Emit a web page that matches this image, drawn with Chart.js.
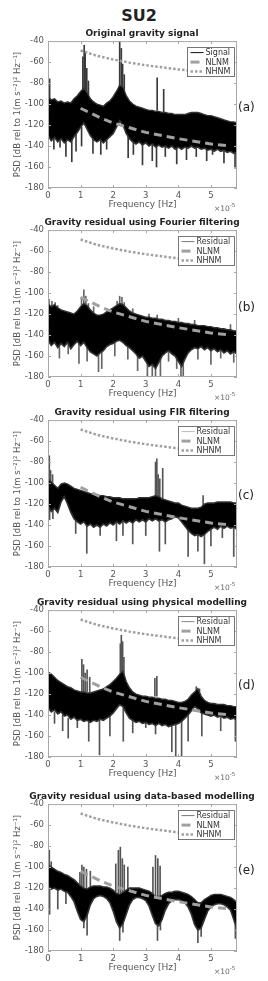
<!DOCTYPE html>
<html>
<head>
<meta charset="utf-8">
<script src="https://cdn.jsdelivr.net/npm/chart.js@4"></script>
<style>
  body { margin: 0; background: #fff; width: 268px; height: 981px; position: relative; overflow: hidden;
         font-family: "DejaVu Sans", sans-serif; }
  canvas { position: absolute; left: 0; }
  .txt { position: absolute; white-space: nowrap; }
  #main { left: 139px; top: 8px; transform: translateX(-50%); font-size: 16px; font-weight: bold; line-height: 16px; color: #222; }
  .ptitle { transform: translateX(-50%); left: 142px; font-size: 9px; font-weight: bold; line-height: 10px; color: #222; }
  .tag { left: 238px; font-size: 12px; line-height: 14px; color: #222; }
  .xexp { left: 214px; font-size: 7.5px; line-height: 9px; color: #666; }
</style>
</head>
<body>
<div id="main" class="txt">SU2</div>
<div id="wrap"></div>
<script>
// ── Data (frequency in units of 1e-5 Hz, PSD in dB) ──────────────────────────
const FREQ = [0,0.1,0.2,0.3,0.4,0.5,0.6,0.7,0.8,0.9,
              1.0,1.1,1.2,1.3,1.4,1.5,1.6,1.7,1.8,1.9,
              2.0,2.1,2.2,2.3,2.4,2.5,2.6,2.7,2.8,2.9,
              3.0,3.1,3.2,3.3,3.4,3.5,3.6,3.7,3.8,3.9,
              4.0,4.1,4.2,4.3,4.4,4.5,4.6,4.7,4.8,4.9,
              5.0,5.1,5.2,5.3,5.4,5.5,5.6,5.7,5.8];

const NLNM_F  = [1.0, 1.6, 2.0, 3.0, 4.0, 5.0, 5.6];
const NLNM_DB = [-104, -113, -118, -127, -133, -138, -140];
const NHNM_F  = [1.0, 1.5, 2.0, 2.5, 3.0, 3.5, 4.0, 4.5, 5.0, 5.6];
const NHNM_DB = [-49, -54, -57.5, -60.5, -63, -65, -67, -68.5, -70, -72];

// (a) original signal
const A_UPPER = [-93,-96,-95,-98,-97,-99,-98,-99,-95,-92,
                 -88,-85,-89,-95,-98,-100,-101,-102,-99,-97,
                 -93,-88,-82,-84,-92,-97,-100,-102,-103,-104,
                 -105,-106,-106,-107,-107,-108,-108,-109,-109,-110,
                 -110,-110,-110,-109,-108,-108,-108,-109,-110,-111,
                 -111,-112,-113,-114,-115,-116,-117,-117,-118];
const A_LOWER = [-130,-135,-132,-136,-133,-137,-134,-136,-131,-127,
                 -122,-118,-124,-130,-134,-136,-134,-137,-134,-131,
                 -128,-122,-116,-120,-128,-133,-136,-138,-136,-139,
                 -137,-140,-138,-141,-139,-141,-140,-142,-140,-143,
                 -141,-143,-141,-142,-140,-142,-141,-143,-142,-144,
                 -143,-145,-143,-145,-144,-146,-145,-147,-146];
const A_SPIKE_X  = [0.05,1.07,1.11,1.14,1.19,1.24,2.2,2.25,2.29,2.34,3.35,3.55,
                    0.18,0.37,0.55,0.73,0.86,1.03,1.38,1.62,1.8,2.46,2.62,2.9,3.2,3.33,3.6,3.95,4.25,4.55,4.87,5.05,5.4,5.74];
const A_SPIKE_LO = [-95,-90,-88,-88,-90,-92,-85,-84,-86,-90,-106,-108,
                    -143,-141,-150,-155,-145,-140,-147,-148,-143,-151,-148,-158,-154,-160,-150,-157,-153,-150,-154,-148,-156,-161];
const A_SPIKE_HI = [-76,-55,-44,-50,-66,-78,-40,-47,-62,-72,-75,-86,
                    -128,-130,-132,-131,-128,-122,-132,-134,-133,-130,-135,-138,-138,-140,-140,-141,-141,-142,-143,-143,-144,-146];

// (b) Fourier filtering residual
const B_UPPER = [-110,-113,-111,-114,-116,-117,-118,-119,-120,-117,
                 -113,-110,-112,-116,-119,-121,-121,-120,-118,-116,
                 -114,-112,-110,-111,-114,-117,-119,-120,-121,-122,
                 -123,-123,-124,-124,-125,-125,-126,-126,-127,-127,
                 -128,-128,-129,-129,-130,-130,-131,-131,-131,-132,
                 -132,-133,-133,-134,-134,-135,-135,-136,-136];
const B_LOWER = [-145,-150,-147,-152,-148,-151,-147,-153,-149,-146,
                 -150,-147,-152,-156,-158,-160,-157,-155,-151,-149,
                 -148,-146,-145,-147,-150,-152,-155,-158,-162,-160,
                 -165,-170,-168,-172,-166,-160,-157,-155,-158,-160,
                 -165,-170,-163,-157,-154,-152,-153,-151,-154,-152,
                 -155,-153,-156,-154,-157,-155,-158,-156,-158];
const B_SPIKE_X  = [0.03,0.12,0.22,0.3,1.03,1.1,1.16,1.24,1.4,2.12,2.2,2.27,2.34,2.6,3.1,3.35,4.0,4.5,5.6,
                    0.35,0.62,0.95,1.2,1.55,1.65,2.05,2.45,2.75,3.05,3.2,3.3,3.45,3.7,3.95,4.08,4.15,4.6,5.0,5.3,5.7];
const B_SPIKE_LO = [-115,-115,-115,-117,-115,-113,-113,-115,-120,-114,-112,-112,-113,-120,-124,-125,-128,-130,-135,
                    -162,-158,-167,-165,-175,-172,-160,-163,-174,-180,-180,-180,-180,-165,-172,-180,-180,-163,-168,-162,-166];
const B_SPIKE_HI = [-106,-108,-109,-112,-104,-97,-103,-110,-113,-108,-103,-104,-109,-115,-120,-121,-124,-126,-130,
                    -148,-148,-147,-150,-158,-156,-148,-150,-158,-160,-165,-168,-162,-155,-160,-165,-165,-152,-154,-154,-156];

// (c) FIR filtering residual
const C_UPPER = [-96,-99,-102,-105,-101,-100,-101,-103,-105,-106,
                 -107,-108,-109,-110,-111,-111,-112,-112,-113,-113,
                 -114,-114,-114,-115,-115,-115,-115,-115,-114,-114,
                 -114,-114,-113,-112,-113,-115,-116,-117,-118,-119,
                 -119,-121,-122,-123,-124,-124,-124,-123,-120,-119,
                 -119,-119,-118,-118,-118,-118,-118,-119,-119];
const C_LOWER = [-122,-127,-124,-128,-118,-113,-120,-128,-134,-137,
                 -139,-137,-141,-139,-142,-140,-142,-139,-141,-138,
                 -140,-137,-139,-136,-138,-136,-138,-135,-137,-135,
                 -137,-134,-136,-134,-136,-135,-137,-135,-134,-132,
                 -133,-137,-141,-145,-148,-150,-149,-151,-149,-146,
                 -144,-142,-144,-141,-143,-141,-143,-142,-144];
const C_SPIKE_X  = [0.04,0.08,0.14,3.3,3.34,3.38,3.43,3.52,4.76,
                    0.05,0.15,0.85,1.19,1.6,2.1,2.3,2.6,3.0,3.42,3.6,4.3,4.6,4.8,5.0,5.35,5.7];
const C_SPIKE_LO = [-100,-100,-102,-113,-113,-113,-114,-115,-121,
                    -135,-134,-148,-167,-150,-155,-150,-158,-150,-165,-158,-170,-165,-177,-160,-152,-170];
const C_SPIKE_HI = [-74,-88,-92,-80,-77,-92,-96,-86,-112,
                    -122,-126,-134,-140,-141,-138,-137,-137,-137,-135,-136,-145,-149,-149,-144,-142,-142];

// (d) physical modelling residual
const D_UPPER = [-99,-101,-104,-107,-109,-111,-113,-114,-116,-117,
                 -118,-118,-119,-119,-118,-117,-116,-115,-113,-111,
                 -108,-105,-101,-98,-108,-114,-118,-120,-121,-122,
                 -122,-123,-123,-124,-124,-125,-125,-126,-126,-127,
                 -128,-128,-127,-125,-121,-118,-115,-122,-126,-128,
                 -129,-129,-130,-130,-130,-131,-131,-132,-132];
const D_LOWER = [-133,-137,-135,-139,-137,-141,-140,-144,-142,-145,
                 -144,-146,-145,-147,-145,-146,-144,-145,-143,-141,
                 -138,-134,-130,-132,-138,-143,-145,-147,-146,-148,
                 -147,-149,-148,-150,-148,-150,-149,-151,-150,-149,
                 -148,-146,-143,-140,-136,-132,-134,-138,-139,-140,
                 -141,-140,-142,-141,-143,-142,-144,-143,-145];
const D_SPIKE_X  = [1.04,1.09,1.14,1.2,1.28,2.22,2.25,2.29,2.33,3.28,3.34,4.55,4.65,
                    0.2,0.45,0.62,0.9,1.25,1.58,1.9,2.31,2.6,3.0,3.3,3.8,3.92,4.1,4.3,4.72,5.3,5.75];
const D_SPIKE_LO = [-118,-118,-118,-118,-119,-101,-100,-101,-104,-122,-122,-118,-118,
                    -148,-155,-162,-152,-165,-178,-160,-165,-157,-152,-158,-175,-180,-180,-165,-160,-155,-165];
const D_SPIKE_HI = [-87,-92,-100,-97,-104,-72,-64,-70,-85,-105,-103,-113,-115,
                    -137,-140,-143,-145,-146,-143,-141,-133,-145,-146,-147,-148,-148,-145,-140,-138,-141,-143];

// (e) data-based modelling residual
const E_UPPER = [-98,-100,-102,-104,-105,-107,-108,-110,-112,-115,
                 -118,-120,-121,-119,-118,-118,-118,-119,-119,-120,
                 -122,-125,-126,-124,-122,-120,-120,-120,-120,-121,
                 -122,-123,-125,-128,-128,-127,-125,-124,-124,-123,
                 -123,-124,-125,-126,-128,-131,-134,-134,-131,-129,
                 -127,-126,-126,-126,-127,-128,-129,-131,-134];
const E_LOWER = [-118,-121,-120,-122,-121,-123,-124,-128,-133,-142,
                 -150,-152,-146,-136,-130,-128,-127,-128,-130,-134,
                 -142,-152,-158,-154,-145,-136,-131,-129,-129,-130,
                 -132,-137,-146,-154,-156,-150,-141,-135,-132,-131,
                 -131,-132,-134,-138,-145,-155,-160,-158,-150,-142,
                 -138,-136,-135,-135,-136,-138,-141,-150,-160];
const E_SPIKE_X  = [0.04,0.1,0.98,1.04,1.1,1.18,1.3,2.08,2.16,2.22,2.28,2.34,2.45,3.22,3.3,3.37,3.44,
                    0.05,0.3,0.55,1.1,1.2,2.2,2.3,3.36,3.45,4.6,4.7,5.75];
const E_SPIKE_LO = [-100,-102,-120,-120,-121,-121,-119,-124,-125,-125,-124,-123,-122,-126,-128,-128,-127,
                    -145,-140,-135,-158,-165,-170,-162,-170,-160,-172,-166,-168];
const E_SPIKE_HI = [-84,-95,-105,-98,-100,-102,-104,-97,-84,-81,-92,-98,-100,-100,-89,-92,-99,
                    -120,-122,-123,-150,-145,-157,-153,-155,-152,-160,-157,-155];

const TITLES = ["Original gravity signal",
                "Gravity residual using Fourier filtering",
                "Gravity residual using FIR filtering",
                "Gravity residual using physical modelling",
                "Gravity residual using data-based modelling"];
const TAGS = ["(a)", "(b)", "(c)", "(d)", "(e)"];
const SERIES_LABELS = ["Signal", "Residual", "Residual", "Residual", "Residual"];
const Y_TICKS = [-40, -60, -80, -100, -120, -140, -160, -180];
const X_TICKS = [0, 1, 2, 3, 4, 5];

// ── Layout ────────────────────────────────────────────────────────────────────
const PLOT_TOPS = [40, 229, 419, 609, 803];
const TAG_Y     = [100, 300, 488, 678, 863];
const PLOT_H = 148, PAD_TOP = 8, XAXIS_H = 22;

const PANELS = [
  { upper: A_UPPER, lower: A_LOWER, sx: A_SPIKE_X, slo: A_SPIKE_LO, shi: A_SPIKE_HI, spike: "#3a3a3a", key: "#111" },
  { upper: B_UPPER, lower: B_LOWER, sx: B_SPIKE_X, slo: B_SPIKE_LO, shi: B_SPIKE_HI, spike: "#666", key: "#777" },
  { upper: C_UPPER, lower: C_LOWER, sx: C_SPIKE_X, slo: C_SPIKE_LO, shi: C_SPIKE_HI, spike: "#555", key: "#bbb" },
  { upper: D_UPPER, lower: D_LOWER, sx: D_SPIKE_X, slo: D_SPIKE_LO, shi: D_SPIKE_HI, spike: "#555", key: "#888" },
  { upper: E_UPPER, lower: E_LOWER, sx: E_SPIKE_X, slo: E_SPIKE_LO, shi: E_SPIKE_HI, spike: "#555", key: "#777" },
];

// ── Plugins: box frame with inward ticks, and in-plot legend ─────────────────
const framePlugin = {
  id: "frame",
  afterDatasetsDraw(chart) {
    const { ctx, chartArea: a, scales } = chart;
    ctx.save();
    ctx.strokeStyle = "#a8a8a8";
    ctx.lineWidth = 1;
    ctx.strokeRect(a.left + 0.5, a.top + 0.5, a.right - a.left - 1, a.bottom - a.top - 1);
    ctx.beginPath();
    X_TICKS.forEach(v => {
      const px = Math.round(scales.x.getPixelForValue(v)) + 0.5;
      ctx.moveTo(px, a.bottom); ctx.lineTo(px, a.bottom - 3);
      ctx.moveTo(px, a.top);    ctx.lineTo(px, a.top + 3);
    });
    Y_TICKS.forEach(v => {
      const py = Math.round(scales.y.getPixelForValue(v)) + 0.5;
      ctx.moveTo(a.left, py);  ctx.lineTo(a.left + 3, py);
      ctx.moveTo(a.right, py); ctx.lineTo(a.right - 3, py);
    });
    ctx.stroke();
    ctx.restore();
  }
};

const keyPlugin = {
  id: "psdKey",
  afterDraw(chart, args, opts) {
    const { ctx, chartArea: a } = chart;
    ctx.save();
    ctx.font = "8px 'DejaVu Sans'";
    const labels = [opts.label, "NLNM", "NHNM"];
    const tw = Math.max(...labels.map(l => ctx.measureText(l).width));
    const w = Math.round(tw + 22), h = 29;
    const x = Math.round(a.right - 3 - w) + 0.5, y = a.top + 6.5;
    ctx.fillStyle = "#fff";
    ctx.fillRect(x, y, w, h);
    ctx.strokeStyle = "#555";
    ctx.lineWidth = 0.8;
    ctx.strokeRect(x, y, w, h);
    const rows = [y + 5, y + 14.5, y + 24];
    const styles = [
      { c: opts.color, lw: 1, dash: [] },
      { c: "#a0a0a0", lw: 3, dash: [] },
      { c: "#a0a0a0", lw: 2.5, dash: [2.5, 2] },
    ];
    styles.forEach((s, i) => {
      ctx.beginPath();
      ctx.strokeStyle = s.c; ctx.lineWidth = s.lw; ctx.setLineDash(s.dash);
      ctx.moveTo(x + 3, rows[i]); ctx.lineTo(x + (i === 1 ? 12 : 16), rows[i]);
      ctx.stroke();
    });
    ctx.setLineDash([]);
    ctx.fillStyle = "#333";
    ctx.textBaseline = "middle";
    labels.forEach((l, i) => ctx.fillText(l, x + 18, rows[i] + 0.5));
    ctx.restore();
  }
};

// ── Build ─────────────────────────────────────────────────────────────────────
const xy = (xs, ys) => xs.map((x, i) => ({ x, y: ys[i] }));
const bars = (xs, lo, hi) => xs.map((x, i) => ({ x, y: [lo[i], hi[i]] }));

const wrap = document.getElementById("wrap");
const tickFont = { family: "DejaVu Sans", size: 8.5 };

PANELS.forEach((p, k) => {
  const top = PLOT_TOPS[k];

  const title = document.createElement("div");
  title.className = "txt ptitle";
  title.style.top = (top - 12) + "px";
  title.textContent = TITLES[k];
  document.body.appendChild(title);

  const tag = document.createElement("div");
  tag.className = "txt tag";
  tag.style.top = TAG_Y[k] + "px";
  tag.textContent = TAGS[k];
  document.body.appendChild(tag);

  const exp = document.createElement("div");
  exp.className = "txt xexp";
  exp.style.top = (top + PLOT_H + 13) + "px";
  exp.innerHTML = "×10<sup style='font-size:5.5px;vertical-align:4px'>-5</sup>";
  document.body.appendChild(exp);

  const canvas = document.createElement("canvas");
  canvas.width = 245;
  canvas.height = PAD_TOP + PLOT_H + XAXIS_H;
  canvas.style.top = (top - PAD_TOP) + "px";
  wrap.appendChild(canvas);

  new Chart(canvas.getContext("2d"), {
    type: "line",
    data: {
      datasets: [
        { type: "line", data: xy(FREQ, p.lower), borderColor: "#333", borderWidth: 1.6,
          pointRadius: 0, fill: false, order: 2 },
        { type: "line", data: xy(FREQ, p.upper), borderColor: "#333", borderWidth: 1.4,
          pointRadius: 0, fill: "-1", backgroundColor: "#000", order: 2 },
        { type: "bar", data: bars(p.sx, p.slo, p.shi), backgroundColor: p.spike,
          barThickness: 1, grouped: false, order: 3 },
        { type: "line", data: xy(NLNM_F, NLNM_DB), borderColor: "#a0a0a0", borderWidth: 3,
          borderDash: [8, 5], pointRadius: 0, fill: false, order: 0 },
        { type: "line", data: xy(NHNM_F, NHNM_DB), borderColor: "#a0a0a0", borderWidth: 2.5,
          borderDash: [2.5, 2], pointRadius: 0, fill: false, order: 0 },
      ],
    },
    options: {
      responsive: false,
      animation: false,
      devicePixelRatio: 1,
      layout: { padding: { top: PAD_TOP, right: 8, left: 0, bottom: 0 } },
      plugins: {
        legend: { display: false },
        tooltip: { enabled: false },
        psdKey: { label: SERIES_LABELS[k], color: p.key },
      },
      scales: {
        x: {
          type: "linear", min: 0, max: 5.8, offset: false,
          grid: { display: false, drawTicks: false }, border: { display: false },
          ticks: { stepSize: 1, includeBounds: false, maxRotation: 0, padding: 3,
                   color: "#555", font: tickFont, callback: v => v },
          title: { display: true, text: "Frequency [Hz]", color: "#555",
                   font: { family: "DejaVu Sans", size: 9 }, padding: { top: 0, bottom: 0 } },
          afterFit: s => { s.height = XAXIS_H; },
        },
        y: {
          min: -180, max: -40,
          grid: { display: false, drawTicks: false }, border: { display: false },
          ticks: { stepSize: 20, padding: 4, color: "#555", font: tickFont, callback: v => v },
          title: { display: true, text: "PSD [dB rel to 1(m s⁻²)² Hz⁻¹]", color: "#555",
                   font: { family: "DejaVu Sans", size: 8.5 }, padding: { top: 13, bottom: 0 } },
          afterFit: s => { s.width = 48; },
        },
      },
    },
    plugins: [framePlugin, keyPlugin],
  });
});
</script>
</body>
</html>
